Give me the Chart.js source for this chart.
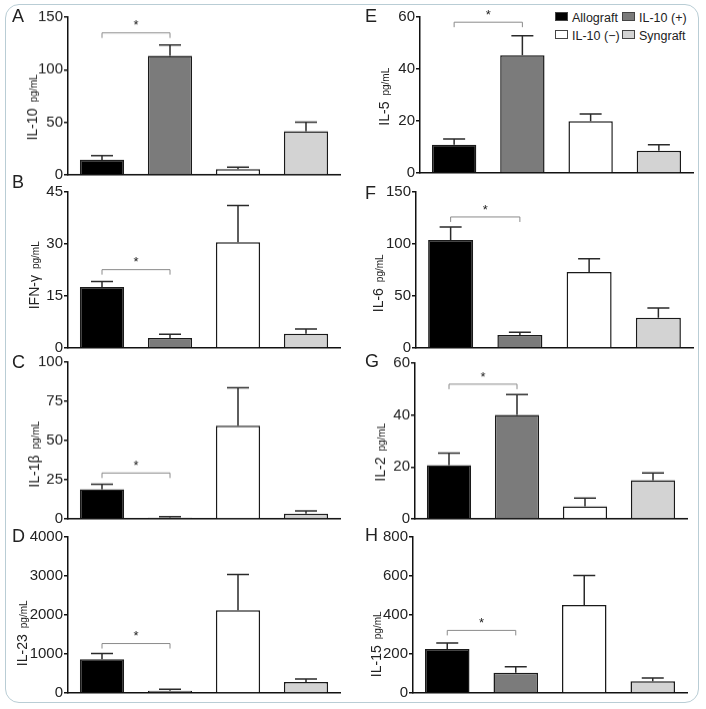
<!DOCTYPE html>
<html>
<head>
<meta charset="utf-8">
<script src="https://cdn.jsdelivr.net/npm/chart.js@4.4.0/dist/chart.umd.min.js"></script>
<style>
  body { margin: 0; width: 706px; height: 709px; background: #fff; position: relative; overflow: hidden;
         font-family: "Liberation Sans", Arial, sans-serif; }
  #frame { position: absolute; left: 5px; top: 4px; width: 692px; height: 697px;
           border: 1.5px solid #b9cdd5; border-radius: 14px; }
  .panel { position: absolute; }
  .letter { position: absolute; font-size: 18px; line-height: 18px; color: #222; }
  .lg { position: absolute; font-size: 12.5px; line-height: 13px; color: #222; white-space: nowrap; }
  .lg span { display: inline-block; width: 11px; height: 7px; border: 1px solid #444; margin-right: 4px; vertical-align: 1px; }
</style>
</head>
<body>
<div id="frame"></div>
<div id="legend"></div>
<script>
const groups = ["Allograft", "IL-10 (+)", "IL-10 (−)", "Syngraft"];
const groupColors = ["#000000", "#7b7b7b", "#ffffff", "#d3d3d3"];

// mean and SEM, pg/mL
const il10Mean = [14.3, 113.2, 5.4, 41.5];
const il10Sem = [4.1, 10.2, 1.9, 8.6];
const il10Ticks = [0, 50, 100, 150];

const ifngMean = [17.6, 2.9, 30.5, 4.1];
const ifngSem = [1.6, 1.1, 10.6, 1.4];
const ifngTicks = [0, 15, 30, 45];

const il1bMean = [18.9, 0.85, 59.4, 3.4];
const il1bSem = [3.2, 0.65, 24.3, 1.7];
const il1bTicks = [0, 25, 50, 75, 100];

const il23Mean = [868, 60, 2119, 281];
const il23Sem = [145, 34, 919, 76];
const il23Ticks = [0, 1000, 2000, 3000, 4000];

const il5Mean = [10.9, 45.3, 19.9, 8.6];
const il5Sem = [2.2, 7.5, 2.8, 2.3];
const il5Ticks = [0, 20, 40, 60];

const il6Mean = [103.8, 12.5, 73.1, 29.2];
const il6Sem = [12.5, 2.6, 12.8, 9.3];
const il6Ticks = [0, 50, 100, 150];

const il2Mean = [20.7, 40.1, 4.8, 14.9];
const il2Sem = [4.7, 7.8, 3.2, 2.8];
const il2Ticks = [0, 20, 40, 60];

const il15Mean = [226, 104, 451, 60];
const il15Sem = [30, 31, 152, 17];
const il15Ticks = [0, 200, 400, 600, 800];

// height of the Allograft vs IL-10(+) significance bracket
const sigLevels = [135, 22.6, 29.3, 1268, 58, 126, 51.9, 321];

const FONT = "'Liberation Sans', Arial, sans-serif";

// layout: area = [left, top, right, bottom] of the plot in page px, title = [baseline x, centre y]
const panels = [
  { letter: "A", name: "IL-10", mean: il10Mean, sem: il10Sem, ticks: il10Ticks, col: 0, area: [68, 17.3, 340, 175], title: [37, 107], lb: 22 },
  { letter: "B", name: "IFN-γ", mean: ifngMean, sem: ifngSem, ticks: ifngTicks, col: 0, area: [68, 191.7, 340, 347.7], title: [39, 275], lb: 188 },
  { letter: "C", name: "IL-1β", mean: il1bMean, sem: il1bSem, ticks: il1bTicks, col: 0, area: [68, 362.3, 340, 519.3], title: [39, 454], lb: 368 },
  { letter: "D", name: "IL-23", mean: il23Mean, sem: il23Sem, ticks: il23Ticks, col: 0, area: [68, 536.7, 340, 693.3], title: [27, 633], lb: 542 },
  { letter: "E", name: "IL-5", mean: il5Mean, sem: il5Sem, ticks: il5Ticks, col: 1, area: [420, 17.3, 693, 173.3], title: [389, 97], lb: 22 },
  { letter: "F", name: "IL-6", mean: il6Mean, sem: il6Sem, ticks: il6Ticks, col: 1, area: [416, 191.7, 693, 347.7], title: [383, 283], lb: 199 },
  { letter: "G", name: "IL-2", mean: il2Mean, sem: il2Sem, ticks: il2Ticks, col: 1, area: [415, 363.3, 687, 519], title: [385, 452], lb: 367 },
  { letter: "H", name: "IL-15", mean: il15Mean, sem: il15Sem, ticks: il15Ticks, col: 1, area: [413, 536.7, 687, 692.7], title: [381, 644], lb: 541 },
];

const errorBars = {
  id: "errorBars",
  afterDatasetsDraw(chart) {
    const ctx = chart.ctx;
    const ds = chart.data.datasets[0];
    const y = chart.scales.y;
    ctx.save();
    ctx.strokeStyle = "#2a2a2a";
    ctx.lineWidth = 1.5;
    chart.getDatasetMeta(0).data.forEach((bar, i) => {
      const yt = y.getPixelForValue(ds.data[i]);
      const ye = y.getPixelForValue(ds.data[i] + ds.sem[i]);
      ctx.beginPath();
      ctx.moveTo(bar.x, yt);
      ctx.lineTo(bar.x, ye);
      ctx.moveTo(bar.x - 11, ye);
      ctx.lineTo(bar.x + 11, ye);
      ctx.stroke();
    });
    ctx.restore();
  }
};

const sigBracket = {
  id: "sigBracket",
  afterDatasetsDraw(chart, args, opts) {
    const ctx = chart.ctx;
    const bars = chart.getDatasetMeta(0).data;
    const y = chart.scales.y.getPixelForValue(opts.level);
    const x1 = bars[0].x, x2 = bars[1].x;
    ctx.save();
    ctx.strokeStyle = "#8a8a8a";
    ctx.lineWidth = 1;
    ctx.beginPath();
    ctx.moveTo(x1, y + 5);
    ctx.lineTo(x1, y);
    ctx.lineTo(x2, y);
    ctx.lineTo(x2, y + 5);
    ctx.stroke();
    ctx.fillStyle = "#222";
    ctx.font = "13px " + FONT;
    ctx.textAlign = "center";
    ctx.textBaseline = "middle";
    ctx.fillText("*", (x1 + x2) / 2, y - 7);
    ctx.restore();
  }
};

const yTitle = {
  id: "yTitle",
  afterDraw(chart, args, opts) {
    const ctx = chart.ctx;
    ctx.save();
    ctx.fillStyle = "#222";
    ctx.translate(opts.x, opts.y);
    ctx.rotate(-Math.PI / 2);
    ctx.textBaseline = "alphabetic";
    ctx.font = "14px " + FONT;
    const w1 = ctx.measureText(opts.main).width;
    ctx.font = "10px " + FONT;
    const w2 = ctx.measureText(opts.unit).width;
    const gap = 6;
    const start = -(w1 + gap + w2) / 2;
    ctx.font = "14px " + FONT;
    ctx.fillText(opts.main, start, 0);
    ctx.font = "10px " + FONT;
    ctx.fillText(opts.unit, start + w1 + gap, 0);
    ctx.restore();
  }
};

panels.forEach((p, idx) => {
  const boxX = p.col ? 353 : 0, boxW = 353;
  const [aL, aT, aR, aB] = p.area;
  const boxY = aT - 17, boxH = aB - boxY + 12;

  const div = document.createElement("div");
  div.className = "panel";
  div.style.left = boxX + "px";
  div.style.top = boxY + "px";
  div.style.width = boxW + "px";
  div.style.height = boxH + "px";
  const canvas = document.createElement("canvas");
  canvas.width = boxW;
  canvas.height = boxH;
  canvas.style.width = boxW + "px";
  canvas.style.height = boxH + "px";
  div.appendChild(canvas);
  document.body.appendChild(div);

  const letter = document.createElement("div");
  letter.className = "letter";
  letter.textContent = p.letter;
  letter.style.left = (boxX + 12) + "px";
  letter.style.top = (p.lb - 15.5) + "px";
  document.body.appendChild(letter);

  new Chart(canvas, {
    type: "bar",
    data: {
      labels: groups,
      datasets: [{
        data: p.mean,
        sem: p.sem,
        backgroundColor: groupColors,
        borderColor: "#1a1a1a",
        borderWidth: 1.5,
        barPercentage: 0.65,
        categoryPercentage: 1,
      }],
    },
    options: {
      responsive: false,
      animation: false,
      layout: { padding: { top: aT - boxY, right: boxX + boxW - aR, bottom: 0, left: 0 } },
      plugins: {
        legend: { display: false },
        tooltip: { enabled: false },
        sigBracket: { level: sigLevels[idx] },
        yTitle: { main: p.name, unit: "pg/mL", x: p.title[0] - boxX, y: p.title[1] - boxY },
      },
      scales: {
        x: {
          ticks: { display: false },
          grid: { display: false },
          border: { color: "#111", width: 1.5 },
          afterFit(s) { s.height = boxY + boxH - aB; },
        },
        y: {
          min: p.ticks[0],
          max: p.ticks[p.ticks.length - 1],
          ticks: {
            stepSize: p.ticks[1] - p.ticks[0],
            color: "#222",
            font: { size: 15, family: FONT },
            padding: 1,
            callback: v => String(v),
          },
          grid: { drawOnChartArea: false, drawTicks: true, tickLength: 4, color: "#111", lineWidth: 1.5 },
          border: { color: "#111", width: 1.5 },
          afterFit(s) { s.width = aL - boxX; },
        },
      },
    },
    plugins: [errorBars, sigBracket, yTitle],
  });
});

// legend, 2 x 2 in the top right
const legend = document.getElementById("legend");
groups.forEach((g, i) => {
  const item = document.createElement("div");
  item.className = "lg";
  item.style.left = (555 + (i % 2) * 67) + "px";
  item.style.top = (12 + Math.floor(i / 2) * 18) + "px";
  const sw = document.createElement("span");
  sw.style.background = groupColors[i];
  item.appendChild(sw);
  item.appendChild(document.createTextNode(g));
  legend.appendChild(item);
});
</script>
</body>
</html>
